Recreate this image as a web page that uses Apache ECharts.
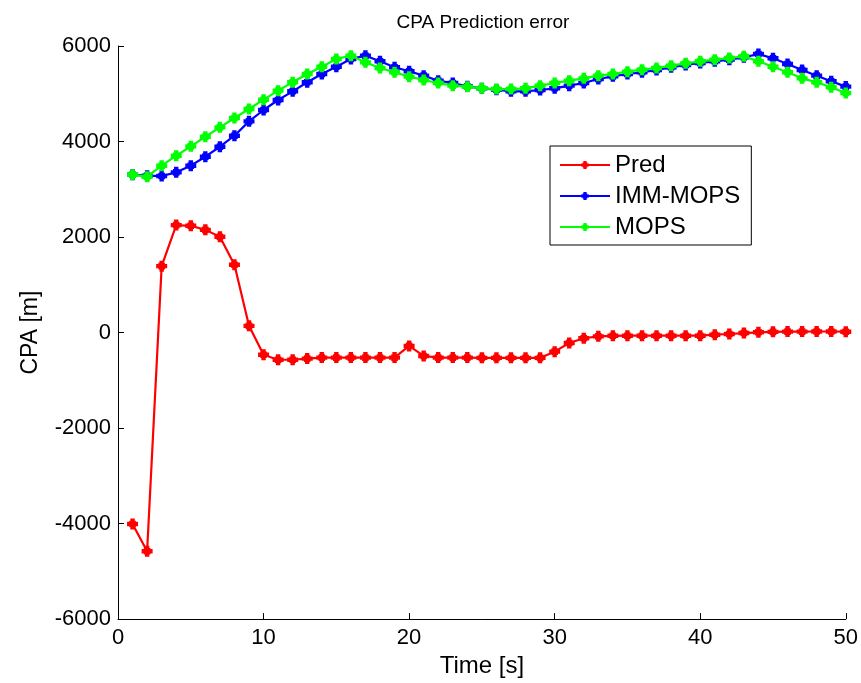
<!DOCTYPE html>
<html><head><meta charset="utf-8">
<script src="https://cdn.jsdelivr.net/npm/echarts@6/dist/echarts.min.js"></script>
<style>html,body{margin:0;padding:0;background:#fff}#c{width:861px;height:683px}</style>
</head><body><div id="c"></div>
<script>
const timeS = [1,2,3,4,5,6,7,8,9,10,11,12,13,14,15,16,17,18,19,20,21,22,23,24,25,26,27,28,29,30,31,32,33,34,35,36,37,38,39,40,41,42,43,44,45,46,47,48,49,50];
const pred = [-4010,-4580,1390,2250,2235,2150,2005,1420,140,-465,-570,-570,-545,-525,-525,-525,-525,-525,-525,-280,-490,-525,-525,-525,-530,-530,-530,-530,-530,-400,-220,-120,-80,-68,-66,-66,-66,-66,-66,-66,-45,-30,-10,5,15,20,20,22,22,18];
const immMops = [3305,3284,3277,3354,3494,3682,3891,4122,4422,4660,4869,5051,5240,5414,5567,5728,5797,5680,5554,5470,5379,5274,5225,5156,5114,5085,5051,5051,5079,5114,5170,5225,5309,5365,5414,5449,5498,5554,5602,5644,5680,5714,5763,5832,5742,5623,5498,5379,5261,5150];
const mops = [3305,3263,3494,3703,3899,4100,4297,4492,4681,4876,5065,5240,5414,5567,5728,5797,5658,5539,5449,5358,5288,5225,5170,5148,5114,5099,5099,5114,5170,5225,5274,5323,5379,5414,5462,5504,5539,5588,5637,5680,5714,5749,5784,5680,5567,5449,5323,5240,5135,5016];
const seriesNames = ['Pred','IMM-MOPS','MOPS'];
const xTicks = {min:0,max:50,interval:10};
const yTicks = {min:-6000,max:6000,interval:2000};

const colors = ['#ff0000','#0000ff','#00ff00'];
const sym = 'path://M3,0 L7,0 L7,2 L8,2 L8,3 L10,3 L10,7 L8,7 L8,8 L7,8 L7,10 L3,10 L3,8 L2,8 L2,7 L0,7 L0,3 L2,3 L2,2 L3,2 Z';
const font = 'Liberation Sans, Arial, sans-serif';
function mk(name, arr, i){
  return {name, type:'line', data: timeS.map((t,k)=>[t,arr[k]]),
    symbol: sym, symbolSize: 11, showSymbol:true,
    lineStyle:{width:2.2,color:colors[i]}, itemStyle:{color:colors[i]},
    animation:false, z: 2 + i};
}
const chart = echarts.init(document.getElementById('c'));
chart.setOption({
  backgroundColor:'#fff',
  animation:false,
  title:{text:'CPA Prediction error', left:478, top:8, textAlign:'center',
    textStyle:{fontFamily:font,fontSize:19,fontWeight:'normal',color:'#000'}},
  grid:{left:118,right:15,top:46,bottom:63,containLabel:false},
  legend:{orient:'vertical', left:550, top:146,
    data:seriesNames, itemWidth:50, itemHeight:10, itemGap:7,
    padding:[7,11,6,9], borderColor:'#000', borderWidth:1, backgroundColor:'#fff',
    textStyle:{fontFamily:font,fontSize:24,color:'#000'}},
  xAxis:{type:'value', min:xTicks.min, max:xTicks.max, interval:xTicks.interval,
    name:'Time [s]', nameLocation:'middle', nameGap:32,
    nameTextStyle:{fontFamily:font,fontSize:24,color:'#000'},
    axisLine:{onZero:false,lineStyle:{color:'#000',width:1}},
    axisTick:{inside:true,length:6,lineStyle:{color:'#000'}},
    axisLabel:{fontFamily:font,fontSize:22,color:'#000',margin:8,formatter:v=>String(v)},
    splitLine:{show:false}},
  yAxis:{type:'value', min:yTicks.min, max:yTicks.max, interval:yTicks.interval,
    name:'CPA [m]', nameLocation:'middle', nameGap:76, nameRotate:90,
    nameTextStyle:{fontFamily:font,fontSize:23,color:'#000'},
    axisLine:{show:true,onZero:false,lineStyle:{color:'#000',width:1}},
    axisTick:{show:true,inside:true,length:6,lineStyle:{color:'#000'}},
    axisLabel:{fontFamily:font,fontSize:22,color:'#000',margin:7,formatter:v=>String(v)},
    splitLine:{show:false}},
  series:[mk('Pred',pred,0), mk('IMM-MOPS',immMops,1), mk('MOPS',mops,2)]
});
</script></body></html>
